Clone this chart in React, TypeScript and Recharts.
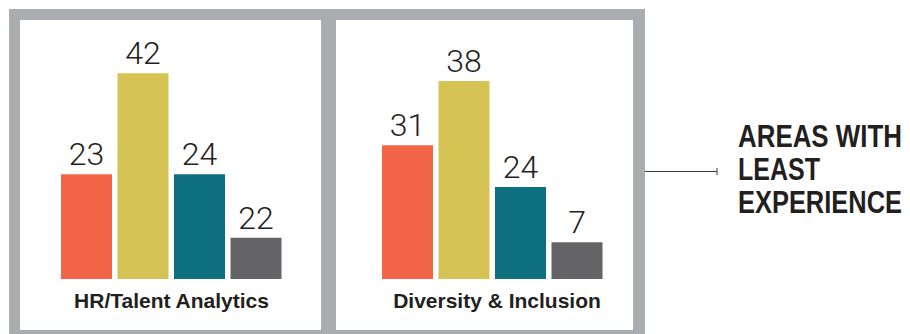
import { BarChart, Bar, XAxis, YAxis, LabelList } from 'recharts'

// four respondent groups, same colour order in both panels
const seriesKeys = ['g0', 'g1', 'g2', 'g3']
const seriesColors = ['#f26546', '#d5c453', '#0e6f80', '#646466']

const panelNames = ['HR/Talent Analytics', 'Diversity & Inclusion']
// numbers printed above the bars
const hrValues = [23, 42, 24, 22]
const diValues = [31, 38, 24, 7]
// bar lengths as drawn in the picture (they do not follow the printed numbers)
const hrBarLength = [21.4, 42, 21.4, 8.4]
const diBarLength = [27.3, 40.4, 18.8, 7.5]

const calloutLines = ['AREAS WITH', 'LEAST', 'EXPERIENCE']
const calloutWidths = [164, 82, 164]

const numberFont = 'Roboto, "Liberation Sans", sans-serif'
const labelFont = '"Liberation Sans", Arial, sans-serif'
const squeeze = 0.79

function buildRow(name: string, lengths: number[], values: number[]) {
  const row: Record<string, string | number> = { name }
  seriesKeys.forEach((k, i) => {
    row[k] = lengths[i]
    row[k + 'Label'] = values[i]
  })
  return [row]
}

function PanelTick(props: any) {
  const { x, y, payload, shift } = props
  return (
    <text
      x={x + shift}
      y={y + 29}
      textAnchor="middle"
      fontFamily={labelFont}
      fontWeight={700}
      fontSize={21}
      fill="#231f20"
    >
      {payload.value}
    </text>
  )
}

function Panel({ name, lengths, values, width, left, shift }: any) {
  const data = buildRow(name, lengths, values)
  return (
    <BarChart
      width={width}
      height={310}
      data={data}
      margin={{ top: 14, right: 0, bottom: 0, left }}
      barGap={5.5}
      barSize={51}
    >
      <XAxis
        dataKey="name"
        height={51}
        axisLine={false}
        tickLine={false}
        tickSize={0}
        tickMargin={0}
        interval={0}
        tick={<PanelTick shift={shift} />}
      />
      <YAxis hide domain={[0, 50]} />
      {seriesKeys.map((k, i) => (
        <Bar key={k} dataKey={k} fill={seriesColors[i]} isAnimationActive={false}>
          <LabelList
            dataKey={k + 'Label'}
            position="top"
            offset={9}
            fontFamily={numberFont}
            fontWeight={300}
            fontSize={32}
            fill="#231f20"
          />
        </Bar>
      ))}
    </BarChart>
  )
}

export default function App() {
  return (
    <div style={{ position: 'relative', width: 902, height: 326, overflow: 'hidden' }}>
      <div style={{ position: 'absolute', left: 1, top: 1, width: 636, height: 340, background: '#abacaf' }} />
      <div style={{ position: 'absolute', left: 12, top: 12, width: 301, height: 310, background: '#fff' }}>
        <Panel name={panelNames[0]} lengths={hrBarLength} values={hrValues} width={301} left={2} shift={0} />
      </div>
      <div style={{ position: 'absolute', left: 328, top: 12, width: 297, height: 310, background: '#fff' }}>
        <Panel name={panelNames[1]} lengths={diBarLength} values={diValues} width={297} left={15} shift={5} />
      </div>
      <svg style={{ position: 'absolute', left: 0, top: 0 }} width={902} height={326}>
        <line x1={637} y1={163.5} x2={709} y2={163.5} stroke="#3a3a3a" strokeWidth={1} />
        <line x1={709} y1={160} x2={709} y2={167} stroke="#3a3a3a" strokeWidth={1} />
        {calloutLines.map((t, i) => (
          <text
            key={t}
            transform={`translate(730, ${139 + i * 33}) scale(${squeeze}, 1)`}
            x={0}
            y={0}
            fontFamily={labelFont}
            fontWeight={700}
            fontSize={32}
            textLength={calloutWidths[i] / squeeze}
            lengthAdjust="spacingAndGlyphs"
            fill="#231f20"
          >
            {t}
          </text>
        ))}
      </svg>
    </div>
  )
}
